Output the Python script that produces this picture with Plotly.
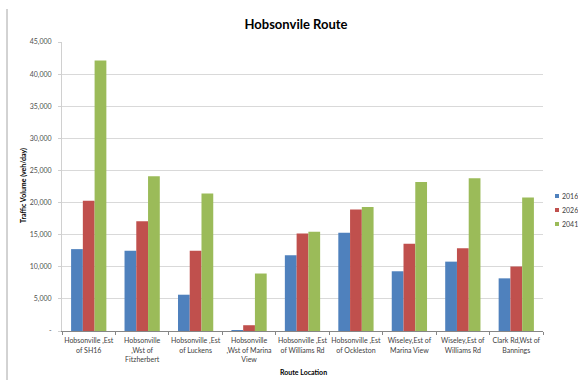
import plotly.graph_objects as go

categories = [
    "Hobsonville ,Est<br>of SH16",
    "Hobsonville<br>,Wst of<br>Fitzherbert",
    "Hobsonville ,Est<br>of Luckens",
    "Hobsonville<br>,Wst of Marina<br>View",
    "Hobsonville ,Est<br>of Williams Rd",
    "Hobsonville ,Est<br>of Ockleston",
    "Wiseley,Est of<br>Marina View",
    "Wiseley,Est of<br>Williams Rd",
    "Clark Rd,Wst of<br>Bannings",
]
v2016 = [12750, 12500, 5650, 150, 11800, 15300, 9300, 10800, 8200]
v2026 = [20300, 17100, 12500, 900, 15200, 18900, 13600, 12900, 10050]
v2041 = [42100, 24100, 21400, 8950, 15450, 19300, 23200, 23800, 20800]

tick_vals = [0, 5000, 10000, 15000, 20000, 25000, 30000, 35000, 40000, 45000]
tick_text = ["-", "5,000", "10,000", "15,000", "20,000", "25,000", "30,000", "35,000", "40,000", "45,000"]

font_family = "Lato, 'Liberation Sans', sans-serif"

series = [("2016", v2016, "#4F81BD"), ("2026", v2026, "#C0504D"), ("2041", v2041, "#9BBB59")]

W, H = 578, 380
L, R, T, B = 62, 543, 42, 331
pw, ph = R - L, B - T

fig = go.Figure()
for name, vals, col in series:
    fig.add_trace(go.Bar(x=categories, y=vals, name=name, showlegend=False,
                         marker=dict(color=col, line=dict(width=0))))

fig.update_layout(
    width=W, height=H,
    margin=dict(l=L, r=W - R, t=T, b=H - B, autoexpand=False),
    paper_bgcolor="white", plot_bgcolor="white",
    barmode="group", bargap=0.34, bargroupgap=0,
    font=dict(family=font_family, size=7, color="#404040"),
    title=dict(text="<b>Hobsonvile Route</b>", x=296/W, xanchor="center", y=1-24/H, yanchor="middle",
               font=dict(size=13, color="black", family=font_family)),
    showlegend=False,
)
fig.update_xaxes(
    showline=True, linecolor="#868686", linewidth=1,
    ticks="outside", tickson="boundaries", ticklen=3, tickcolor="#868686",
    showgrid=False, tickfont=dict(size=7, color="#404040"), tickangle=0,
    ticklabelstandoff=3,
)
fig.update_yaxes(
    range=[0, 45000], tickvals=tick_vals, ticktext=tick_text,
    showgrid=True, gridcolor="#D9D9D9", gridwidth=1, zeroline=False,
    showline=True, linecolor="#D0D0D0", linewidth=1,
    ticks="outside", ticklen=3, tickcolor="#D0D0D0",
    ticklabelstandoff=5, tickfont=dict(size=7, color="#505050"),
)
# axis titles
fig.add_annotation(text="<b>Traffic Volume (veh/day)</b>", xref="paper", yref="paper",
                   x=(23 - L)/pw, y=(B - 186)/ph, textangle=-90, showarrow=False,
                   font=dict(size=7, color="black"), xanchor="center", yanchor="middle")
fig.add_annotation(text="<b>Route Location</b>", xref="paper", yref="paper",
                   x=(303 - L)/pw, y=-(372 - B)/ph, showarrow=False,
                   font=dict(size=7, color="black"), xanchor="center", yanchor="middle")
# chart-area left border
fig.add_shape(type="line", xref="paper", yref="paper",
              x0=(7 - L)/pw, x1=(7 - L)/pw, y0=(B - 9)/ph, y1=-(H - B)/ph,
              line=dict(color="#A6A6A6", width=1))
# legend (manual, to match tight spacing)
for i, (name, vals, col) in enumerate(series):
    yc = 196 + 14 * i
    fig.add_shape(type="rect", xref="paper", yref="paper",
                  x0=(555 - L)/pw, x1=(559 - L)/pw, y0=(B - yc + 2)/ph, y1=(B - yc - 2)/ph,
                  fillcolor=col, line=dict(width=0))
    fig.add_annotation(text=name, xref="paper", yref="paper", x=(560 - L)/pw, y=(B - yc)/ph,
                       xanchor="left", yanchor="middle", showarrow=False,
                       font=dict(size=7, color="#404040"))

fig.write_html("out.html")
